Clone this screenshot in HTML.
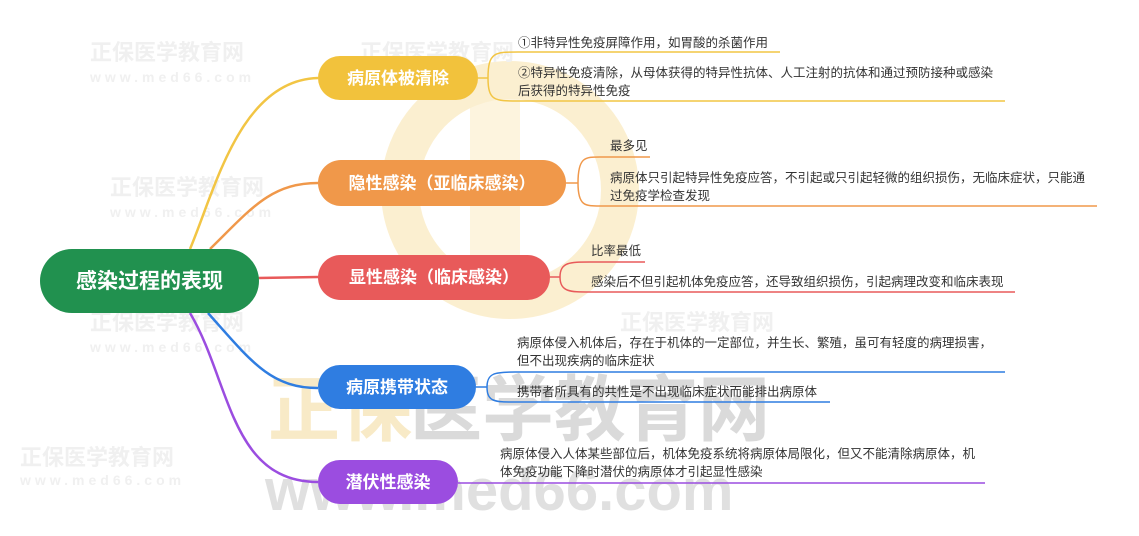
<!DOCTYPE html>
<html><head><meta charset="utf-8"><style>
html,body{margin:0;padding:0;background:#fff;width:1139px;height:536px;overflow:hidden}
svg text{font-family:"Liberation Sans","Noto Sans CJK SC",sans-serif}
.l{font-size:12.5px;fill:#333}
.n{font-size:17px;font-weight:bold;fill:#fff}
</style></head><body>
<svg width="1139" height="536" viewBox="0 0 1139 536" xmlns="http://www.w3.org/2000/svg">
<!-- watermarks -->
<g opacity="0.35">
<circle cx="510" cy="190" r="110" fill="none" stroke="#f6d37a" stroke-width="38"/>
<rect x="470" y="70" width="50" height="190" fill="#f6d37a" opacity="0.7"/>
</g>
<g fill="#f0f0f0" font-weight="bold">
<text x="410" y="435" font-size="72" fill="#bdbdbd" opacity="0.55">医学教育网</text>
<text x="268" y="435" font-size="72" fill="#f6e2b0" opacity="0.7">正保</text>
<text x="265" y="510" font-size="58" fill="#c8c8c8" opacity="0.55">www.med66.com</text>
<text x="90" y="60" font-size="22">正保医学教育网</text>
<text x="360" y="60" font-size="22">正保医学教育网</text>
<text x="110" y="195" font-size="22">正保医学教育网</text>
<text x="90" y="330" font-size="22">正保医学教育网</text>
<text x="620" y="330" font-size="22">正保医学教育网</text>
<text x="20" y="465" font-size="22">正保医学教育网</text>
<text x="90" y="82" font-size="14" letter-spacing="4">www.med66.com</text>
<text x="110" y="217" font-size="14" letter-spacing="4">www.med66.com</text>
<text x="90" y="352" font-size="14" letter-spacing="4">www.med66.com</text>
<text x="20" y="485" font-size="14" letter-spacing="4">www.med66.com</text>
</g>
<!-- root connectors -->
<g fill="none" stroke-width="2.5">
<path d="M190 249 C215 190 240 80 318 78" stroke="#f2c544"/>
<path d="M210 249 C250 210 270 183 318 183" stroke="#f0984a"/>
<path d="M258 278 L318 277" stroke="#e85a5a"/>
<path d="M208 313 C250 360 270 388 318 388" stroke="#2f7de1"/>
<path d="M190 313 C230 380 230 482 318 482" stroke="#9b4de0"/>
</g>
<!-- leaf brackets -->
<g fill="none" stroke-width="1.5">
<path d="M478 78 L488 78 M488 78 C488 52 495 52 518 52 L780 52 M488 78 C488 101 495 101 518 101 L1005 101" stroke="#f2c544"/>
<path d="M566 183 L578 183 M578 183 C578 157 585 157 600 157 L650 157 M578 183 C578 206 585 206 600 206 L1097 206" stroke="#f0984a"/>
<path d="M550 277 L560 277 M560 277 C560 262 570 262 590 262 L645 262 M560 277 C560 292 570 292 590 292 L1015 292" stroke="#e85a5a"/>
<path d="M476 387 L487 387 M487 387 C487 373 495 372 515 372 L1005 372 M487 387 C487 402 495 402 515 402 L830 402" stroke="#2f7de1"/>
<path d="M458 483 L985 483" stroke="#9b4de0"/>
</g>
<!-- root -->
<rect x="40" y="249" width="219" height="64" rx="32" fill="#21914f"/>
<text x="149.5" y="288" text-anchor="middle" font-size="21" font-weight="bold" fill="#fff">感染过程的表现</text>
<!-- nodes -->
<rect x="318" y="56" width="160" height="44" rx="22" fill="#f2c23c"/>
<text class="n" x="398" y="84" text-anchor="middle">病原体被清除</text>
<rect x="318" y="160" width="248" height="46" rx="23" fill="#f0984a"/>
<text class="n" x="442" y="189" text-anchor="middle">隐性感染（亚临床感染）</text>
<rect x="318" y="255" width="232" height="45" rx="22.5" fill="#e85a5a"/>
<text class="n" x="434" y="283" text-anchor="middle">显性感染（临床感染）</text>
<rect x="318" y="365" width="158" height="44" rx="22" fill="#2f7de1"/>
<text class="n" x="397" y="393" text-anchor="middle">病原携带状态</text>
<rect x="318" y="460" width="140" height="44" rx="22" fill="#9b4de0"/>
<text class="n" x="388" y="488" text-anchor="middle">潜伏性感染</text>
<!-- leaf text -->
<text class="l" x="518" y="47">①非特异性免疫屏障作用，如胃酸的杀菌作用</text>
<text class="l" x="518" y="77">②特异性免疫清除，从母体获得的特异性抗体、人工注射的抗体和通过预防接种或感染</text>
<text class="l" x="518" y="95">后获得的特异性免疫</text>
<text class="l" x="610" y="150">最多见</text>
<text class="l" x="610" y="182">病原体只引起特异性免疫应答，不引起或只引起轻微的组织损伤，无临床症状，只能通</text>
<text class="l" x="610" y="200">过免疫学检查发现</text>
<text class="l" x="591" y="255">比率最低</text>
<text class="l" x="591" y="286">感染后不但引起机体免疫应答，还导致组织损伤，引起病理改变和临床表现</text>
<text class="l" x="517" y="347">病原体侵入机体后，存在于机体的一定部位，并生长、繁殖，虽可有轻度的病理损害，</text>
<text class="l" x="517" y="365">但不出现疾病的临床症状</text>
<text class="l" x="517" y="396">携带者所具有的共性是不出现临床症状而能排出病原体</text>
<text class="l" x="500" y="458">病原体侵入人体某些部位后，机体免疫系统将病原体局限化，但又不能清除病原体，机</text>
<text class="l" x="500" y="476">体免疫功能下降时潜伏的病原体才引起显性感染</text>
</svg>
</body></html>
